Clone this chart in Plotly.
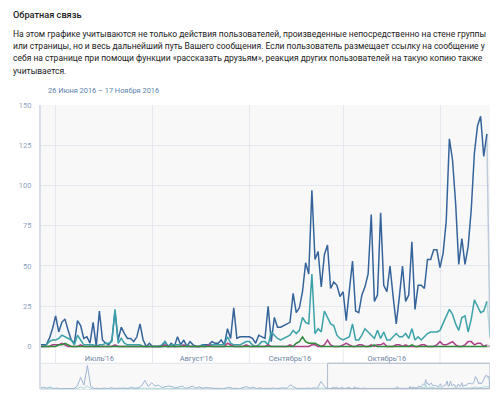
import pandas as pd
import plotly.graph_objects as go

# ---------------- data ----------------
start_date = "2016-06-26"
end_date = "2016-11-17"
nav_start = "2015-10-15"

blue = [1, 1, 1, 5, 11, 19, 9, 15, 17, 10,
        4, 2, 16, 13, 5, 6, 2, 15, 0, 22,
        4, 2, 1, 4, 22, 4, 12, 8, 5, 5,
        3, 6, 14, 4, 0, 2, 0, 0, 0, 0,
        3, 0, 2, 0, 6, 1, 4, 0, 3, 1,
        0, 0, 1, 1, 1, 3, 2, 2, 4, 1,
        11, 5, 24, 5, 6, 6, 6, 6, 5, 2,
        7, 6, 5, 25, 3, 18, 12, 12, 13, 14,
        15, 33, 21, 24, 34, 52, 45, 97, 54, 59,
        37, 57, 63, 36, 40, 38, 31, 34, 16, 35,
        53, 22, 21, 32, 37, 45, 82, 28, 32, 83,
        38, 34, 50, 31, 14, 31, 50, 28, 32, 65,
        23, 38, 38, 36, 54, 54, 60, 60, 49, 58,
        78, 129, 116, 89, 51, 67, 51, 62, 85, 120,
        137, 143, 118, 132, 5]

teal = [0, 0, 1, 3, 4, 4, 5, 7, 6, 5,
        4, 1, 7, 4, 1, 1, 1, 1, 0, 1,
        1, 2, 2, 3, 23, 2, 5, 2, 1, 1,
        1, 1, 1, 0, 0, 0, 0, 0, 0, 1,
        3, 0, 1, 1, 1, 1, 0, 1, 0, 0,
        0, 0, 1, 0, 1, 1, 1, 1, 1, 1,
        6, 2, 1, 1, 1, 2, 3, 3, 1, 0,
        1, 3, 3, 1, 9, 7, 5, 4, 5, 6,
        7, 10, 8, 10, 18, 15, 14, 45, 8, 11,
        9, 22, 18, 14, 13, 7, 5, 4, 5, 6,
        14, 4, 4, 7, 11, 9, 7, 5, 10, 5,
        9, 4, 4, 6, 8, 6, 6, 8, 5, 11,
        4, 6, 4, 6, 8, 9, 9, 9, 10, 14,
        19, 23, 20, 14, 10, 18, 19, 9, 17, 29,
        25, 21, 22, 28, 6]

magenta = [0, 0, 0, 0, 1, 1, 1, 2, 1, 0,
           0, 0, 0, 1, 0, 0, 0, 0, 0, 0,
           0, 0, 0, 0, 1, 0, 0, 0, 0, 0,
           0, 0, 0, 0, 0, 0, 0, 0, 0, 0,
           1, 0, 0, 0, 0, 0, 1, 0, 0, 0,
           0, 0, 0, 0, 1, 0, 0, 0, 0, 0,
           2, 1, 0, 0, 0, 0, 1, 0, 0, 0,
           0, 0, 0, 1, 0, 0, 0, 0, 0, 0,
           1, 0, 0, 0, 0, 0, 0, 1, 1, 0,
           0, 1, 4, 1, 0, 0, 0, 1, 2, 1,
           0, 0, 1, 1, 0, 0, 1, 0, 1, 1,
           2, 0, 0, 0, 1, 1, 0, 1, 0, 0,
           0, 0, 1, 1, 0, 0, 0, 1, 3, 1,
           1, 2, 3, 1, 0, 0, 1, 3, 3, 1,
           2, 2, 0, 1, 0]

green = [0, 0, 0, 0, 0, 0, 1, 1, 2, 1,
         0, 0, 0, 0, 0, 0, 0, 0, 0, 0,
         0, 0, 0, 0, 0, 0, 0, 0, 0, 0,
         0, 0, 0, 0, 0, 0, 0, 0, 0, 0,
         0, 0, 0, 0, 0, 0, 0, 0, 0, 0,
         0, 0, 0, 0, 0, 0, 0, 0, 0, 0,
         0, 0, 0, 0, 0, 0, 0, 0, 0, 0,
         0, 0, 0, 0, 0, 0, 0, 0, 0, 0,
         0, 0, 2, 3, 6, 3, 2, 2, 2, 1,
         0, 0, 0, 0, 0, 0, 0, 0, 0, 0,
         0, 0, 0, 0, 0, 0, 0, 1, 0, 0,
         0, 0, 0, 0, 0, 0, 0, 0, 0, 1,
         0, 0, 0, 0, 0, 0, 0, 0, 0, 0,
         0, 0, 0, 0, 0, 0, 0, 0, 0, 0,
         0, 0, 0, 0, 0]

# navigator history (every 3 days, Oct 2015 - Jun 2016)
hist_blue = [5, 20, 8, 20, 5, 10, 3, 5, 2, 6,
             3, 30, 118, 40, 242, 25, 5, 8, 3, 10,
             4, 12, 6, 8, 3, 10, 5, 20, 8, 12,
             30, 88, 25, 66, 30, 40, 15, 20, 30, 25,
             10, 20, 30, 8, 15, 30, 10, 22, 8, 15,
             10, 12, 5, 8, 3, 10, 20, 5, 8, 3,
             15, 25, 10, 18, 5, 12, 3, 8, 5, 10,
             4, 8, 12, 6, 44, 20, 5, 8, 3, 10,
             6, 12, 8, 77, 30]
hist_teal = [1, 3, 1, 2, 1, 1, 0, 1, 0, 1,
             0, 4, 20, 6, 30, 4, 1, 1, 0, 2,
             1, 2, 1, 1, 0, 2, 1, 3, 1, 2,
             4, 10, 3, 8, 4, 5, 2, 3, 4, 3,
             1, 3, 4, 1, 2, 4, 1, 3, 1, 2,
             1, 2, 1, 1, 0, 1, 3, 1, 1, 0,
             2, 3, 1, 2, 1, 2, 0, 1, 1, 1,
             0, 1, 2, 1, 6, 3, 1, 1, 0, 1,
             1, 2, 1, 10, 4]

month_starts = ["2016-07-01", "2016-08-01", "2016-09-01", "2016-10-01", "2016-11-01"]
month_mids = ["2016-07-15", "2016-08-15", "2016-09-14", "2016-10-15"]
month_labels = ["Июль'16", "Август'16", "Сентябрь'16", "Октябрь'16"]
y_ticks = [0, 25, 50, 75, 100, 125, 150]

title_text = "Обратная связь"
para_lines = [
    "На этом графике учитываются не только действия пользователей, произведенные непосредственно на стене группы",
    "или страницы, но и весь дальнейший путь Вашего сообщения. Если пользователь размещает ссылку на сообщение у",
    "себя на странице при помощи функции «рассказать друзьям», реакция других пользователей на такую копию также",
    "учитывается.",
]
period_text = "26 Июня 2016 – 17 Ноября 2016"

# ---------------- figure ----------------
dates = pd.date_range(start_date, end_date, freq="D")
hist_dates = pd.date_range(nav_start, periods=len(hist_blue), freq="3D")
nav_dates = list(hist_dates) + list(dates)

C_BLUE = "#35649a"
C_TEAL = "#3aa2a8"
C_MAG = "#b0408a"
C_GREEN = "#2f8a3c"
FONT = "Roboto"

fig = go.Figure()

def main_line(y, color, faded):
    fig.add_trace(go.Scatter(x=dates[:-1], y=y[:-1], mode="lines",
                             line=dict(color=color, width=1.5),
                             hoverinfo="skip", showlegend=False))
    fig.add_trace(go.Scatter(x=dates[-2:], y=y[-2:], mode="lines",
                             line=dict(color=faded, width=1.5),
                             hoverinfo="skip", showlegend=False))

main_line(blue, C_BLUE, "rgba(53,100,154,0.3)")
main_line(teal, C_TEAL, "rgba(58,162,168,0.3)")
main_line(magenta, C_MAG, "rgba(176,64,138,0.3)")
main_line(green, C_GREEN, "rgba(47,138,60,0.3)")

fig.add_trace(go.Scatter(x=nav_dates, y=hist_teal + teal, mode="lines",
                         line=dict(color="#a9d8d8", width=1),
                         xaxis="x2", yaxis="y2", hoverinfo="skip", showlegend=False))
fig.add_trace(go.Scatter(x=nav_dates, y=hist_blue + blue, mode="lines",
                         line=dict(color="#9fb6d2", width=1),
                         xaxis="x2", yaxis="y2", hoverinfo="skip", showlegend=False))

H = 397
T, B, L, R = 105, 5, 40, 10
ph = H - T - B
main_bottom = (H - B - 351) / ph
nav_top = (H - B - 366) / ph

def py(p):
    return (H - B - p) / ph

def px(p):
    return (p - L) / (500 - L - R)

GRID = "#e5e9ef"

fig.update_layout(
    width=500, height=H,
    margin=dict(l=L, r=R, t=T, b=B),
    paper_bgcolor="white",
    plot_bgcolor="#f8f8f9",
    font=dict(family=FONT, color="#222"),
    xaxis=dict(
        domain=[0, 1], anchor="y",
        range=[dates[0], dates[-1]],
        tickvals=month_mids, ticktext=month_labels,
        showgrid=False, zeroline=False,
        ticks="outside", ticklen=3, tickcolor="rgba(0,0,0,0)",
        tickfont=dict(size=7.5, color="#6e86a3"),
        minor=dict(tickvals=month_starts, showgrid=True, gridcolor=GRID, gridwidth=1, ticks=""),
        showline=False,
    ),
    yaxis=dict(
        domain=[main_bottom, 1], anchor="x",
        range=[-1.23, 150],
        tickvals=y_ticks,
        gridcolor=GRID, gridwidth=1, zeroline=False,
        ticks="outside", ticklen=6, tickcolor="rgba(0,0,0,0)",
        tickfont=dict(size=7.5, color="#8ea2bd"),
        showline=False,
    ),
    xaxis2=dict(
        domain=[0, 1], anchor="y2",
        range=[nav_dates[0], nav_dates[-1]],
        showticklabels=False, showgrid=False, zeroline=False, ticks="",
        showline=True, linecolor="#e1e6ec", linewidth=1,
    ),
    yaxis2=dict(
        domain=[0, nav_top], anchor="x2",
        range=[0, 265],
        showticklabels=False, showgrid=False, zeroline=False, ticks="",
    ),
)

shapes = []
for m in month_starts:
    shapes.append(dict(type="line", xref="x", yref="paper", x0=m, x1=m,
                       y0=nav_top, y1=main_bottom, line=dict(color=GRID, width=1)))
shapes.append(dict(type="line", xref="paper", yref="paper", x0=0, x1=1,
                   y0=nav_top, y1=nav_top, line=dict(color="#dfe4ea", width=1)))
shapes.append(dict(type="line", xref="paper", yref="paper", x0=0, x1=0,
                   y0=0, y1=1, line=dict(color="#d8dfe8", width=2)))
shapes.append(dict(type="rect", xref="x2", yref="paper", x0=dates[0], x1=dates[-1],
                   y0=0.002, y1=nav_top, line=dict(color="#aebacb", width=1),
                   fillcolor="rgba(0,0,0,0)"))
fig.update_layout(shapes=shapes)

annotations = [
    dict(text=title_text, xref="paper", yref="paper", x=px(11), y=py(14),
         xanchor="left", yanchor="middle", showarrow=False,
         font=dict(size=9.2, color="#222", family=FONT, weight=500)),
    dict(text=period_text, xref="paper", yref="paper", x=px(46), y=py(90.5),
         xanchor="left", yanchor="middle", showarrow=False,
         font=dict(size=7.4, color="#5b82ad", family=FONT)),
]
line_centers = [33.5, 45.8, 58.0, 70.2]
for txt, yc in zip(para_lines, line_centers):
    annotations.append(dict(text=txt, xref="paper", yref="paper", x=px(11), y=py(yc),
                            xanchor="left", yanchor="middle", showarrow=False,
                            font=dict(size=8.5, color="#222", family=FONT)))
fig.update_layout(annotations=annotations)

fig.write_html("out.html", post_script="document.body.style.margin='0px';",
               config={"displayModeBar": False})
